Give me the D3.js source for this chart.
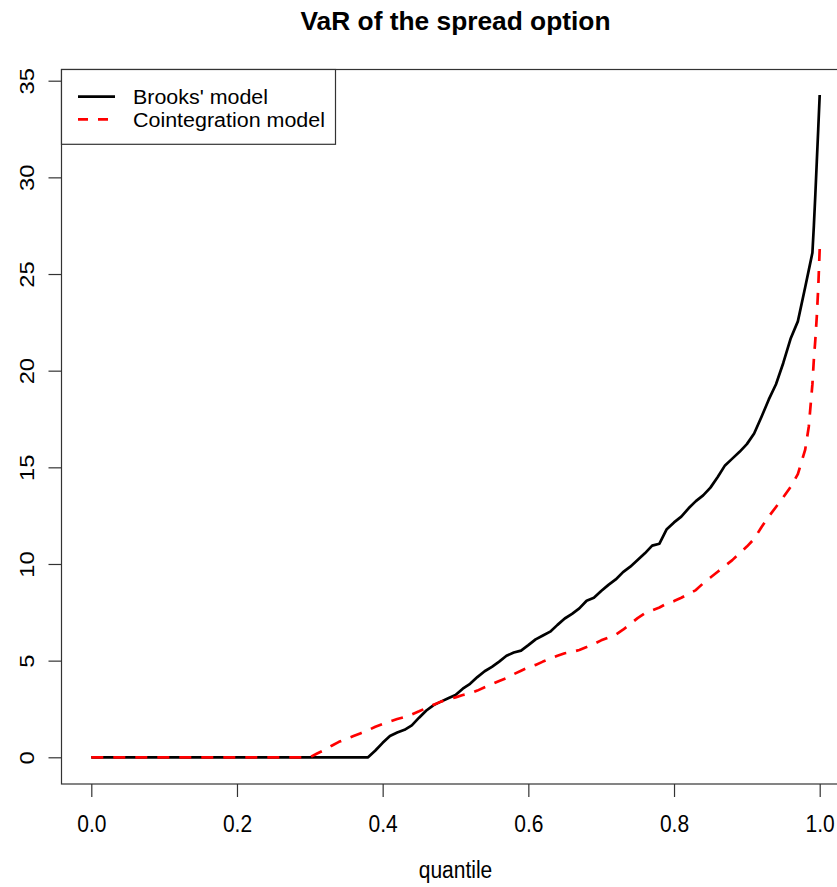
<!DOCTYPE html>
<html>
<head>
<meta charset="utf-8">
<script src="https://cdn.jsdelivr.net/npm/d3@7"></script>
<style>
  body { margin: 0; background: #fff; }
  svg text { font-family: "Liberation Sans", Arial, sans-serif; fill: #000; }
</style>
</head>
<body>
<svg id="chart" width="837" height="887"></svg>
<script>
// Quantile grid (finer near the upper tail)
const quantile = [
  0, 0.05, 0.10, 0.15, 0.20, 0.25, 0.30,
  0.31, 0.32, 0.33, 0.34, 0.35, 0.36, 0.37, 0.38, 0.39, 0.40,
  0.41, 0.42, 0.43, 0.44, 0.45, 0.46, 0.47, 0.48, 0.49, 0.50,
  0.51, 0.52, 0.53, 0.54, 0.55, 0.56, 0.57, 0.58, 0.59, 0.60,
  0.61, 0.62, 0.63, 0.64, 0.65, 0.66, 0.67, 0.68, 0.69, 0.70,
  0.71, 0.72, 0.73, 0.74, 0.75, 0.76, 0.77, 0.78, 0.79, 0.80,
  0.81, 0.82, 0.83, 0.84, 0.85, 0.86, 0.87, 0.88, 0.89, 0.90,
  0.91, 0.92, 0.93, 0.94, 0.95, 0.96, 0.97, 0.98,
  0.985, 0.99, 0.992, 0.994, 0.996, 0.998, 1.0
];

// VaR under Brooks' model
const brooksVaR = [
  0, 0, 0, 0, 0, 0, 0,
  0, 0, 0, 0, 0, 0, 0, 0, 0.35, 0.75,
  1.10, 1.28, 1.42, 1.65, 2.05, 2.42, 2.70, 2.88, 3.05, 3.22,
  3.55, 3.80, 4.15, 4.45, 4.68, 4.95, 5.25, 5.42, 5.52, 5.80,
  6.10, 6.30, 6.50, 6.85, 7.18, 7.42, 7.70, 8.10, 8.25, 8.60,
  8.92, 9.20, 9.58, 9.86, 10.20, 10.55, 10.95, 11.05, 11.80, 12.15,
  12.45, 12.88, 13.25, 13.55, 13.95, 14.50, 15.10, 15.45, 15.80, 16.20,
  16.75, 17.60, 18.50, 19.30, 20.40, 21.65, 22.55, 24.30,
  25.2, 26.1, 27.5, 29.1, 30.8, 32.5, 34.26
];

// VaR under the cointegration model
const cointVaR = [
  0, 0, 0, 0, 0, 0, 0,
  0.20, 0.38, 0.60, 0.80, 0.95, 1.10, 1.25, 1.40, 1.58, 1.72,
  1.85, 1.98, 2.08, 2.22, 2.38, 2.55, 2.72, 2.88, 3.00, 3.10,
  3.22, 3.30, 3.45, 3.62, 3.78, 3.95, 4.10, 4.30, 4.48, 4.65,
  4.78, 4.95, 5.10, 5.25, 5.38, 5.45, 5.55, 5.70, 5.86, 6.05,
  6.20, 6.35, 6.60, 6.90, 7.20, 7.45, 7.60, 7.75, 7.95, 8.08,
  8.25, 8.45, 8.65, 9.00, 9.30, 9.60, 9.90, 10.20, 10.55, 10.90,
  11.30, 11.90, 12.45, 12.95, 13.45, 13.98, 14.65, 15.90,
  17.1, 19.3, 20.6, 21.6, 22.8, 24.3, 26.3
];

const xTicks = [0, 0.2, 0.4, 0.6, 0.8, 1.0];
const yTicks = [0, 5, 10, 15, 20, 25, 30, 35];
const seriesNames = ["Brooks' model", "Cointegration model"];
const seriesColors = ["#000000", "#ff0000"];

const svg = d3.select("#chart");
const stretch = 1.13; // tall text rendering

// Plot region with 4% padding around the data range
const x = d3.scaleLinear().domain([0, 1]).range([91.3, 819.7]);
const y = d3.scaleLinear().domain([0, 35]).range([757.3, 80.7]);
const box = { left: 61.5, top: 69.5, right: 848.9, bottom: 784 };

// Frame
svg.append("rect")
  .attr("x", box.left).attr("y", box.top)
  .attr("width", box.right - box.left).attr("height", box.bottom - box.top)
  .attr("fill", "none").attr("stroke", "#333").attr("stroke-width", 1.2);

// X axis
const gx = svg.append("g")
  .attr("transform", `translate(0,${box.bottom})`)
  .call(d3.axisBottom(x).tickValues(xTicks).tickSize(13).tickFormat(d3.format(".1f")));
gx.select(".domain").remove();
gx.selectAll(".tick line").attr("stroke", "#333").attr("stroke-width", 1.2);
gx.selectAll(".tick text")
  .attr("y", null).attr("dy", null)
  .attr("transform", `translate(0,48) scale(1,${stretch})`)
  .style("font-size", "21px").attr("fill", "#000")
  .attr("font-family", "Liberation Sans, Arial, sans-serif");

// Y axis (labels parallel to the axis)
const gy = svg.append("g")
  .attr("transform", `translate(${box.left},0)`)
  .call(d3.axisLeft(y).tickValues(yTicks).tickSize(13).tickFormat(d3.format("d")));
gy.select(".domain").remove();
gy.selectAll(".tick line").attr("stroke", "#333").attr("stroke-width", 1.2);
gy.selectAll(".tick text")
  .attr("x", null).attr("dy", null)
  .attr("text-anchor", "middle")
  .attr("transform", `translate(-28,0) rotate(-90) scale(${stretch},1)`)
  .style("font-size", "21px").attr("fill", "#000")
  .attr("font-family", "Liberation Sans, Arial, sans-serif");

// Series lines
const line = d3.line()
  .x((d, i) => x(quantile[i]))
  .y(d => y(d));

svg.append("path")
  .datum(brooksVaR)
  .attr("d", line)
  .attr("fill", "none")
  .attr("stroke", seriesColors[0])
  .attr("stroke-width", 2.7)
  .attr("stroke-linejoin", "round");

svg.append("path")
  .datum(cointVaR)
  .attr("d", line)
  .attr("fill", "none")
  .attr("stroke", seriesColors[1])
  .attr("stroke-width", 2.7)
  .attr("stroke-dasharray", "12,10")
  .attr("stroke-linejoin", "round");

// Title
svg.append("text")
  .attr("text-anchor", "middle")
  .attr("transform", `translate(455.5,30) scale(1,${stretch})`)
  .attr("font-weight", "bold")
  .style("font-size", "23px")
  .attr("textLength", 310).attr("lengthAdjust", "spacingAndGlyphs")
  .text("VaR of the spread option");

// X axis title
svg.append("text")
  .attr("text-anchor", "middle")
  .attr("transform", `translate(455.5,878) scale(1,${stretch})`)
  .style("font-size", "21px")
  .text("quantile");

// Legend
const legend = svg.append("g");
legend.append("rect")
  .attr("x", box.left).attr("y", box.top)
  .attr("width", 335.5 - box.left).attr("height", 144.3 - box.top)
  .attr("fill", "#fff").attr("stroke", "#333").attr("stroke-width", 1.2);
const rowsY = [96.7, 119.3];
const labelWidths = [135, 192];
seriesNames.forEach((name, i) => {
  legend.append("line")
    .attr("x1", 78).attr("x2", 115)
    .attr("y1", rowsY[i]).attr("y2", rowsY[i])
    .attr("stroke", seriesColors[i]).attr("stroke-width", 2.7)
    .attr("stroke-dasharray", i === 1 ? "10,10" : null);
  legend.append("text")
    .attr("x", 133).attr("y", rowsY[i] + 7.5)
    .style("font-size", "20px")
    .attr("textLength", labelWidths[i]).attr("lengthAdjust", "spacingAndGlyphs")
    .text(name);
});
</script>
</body>
</html>
